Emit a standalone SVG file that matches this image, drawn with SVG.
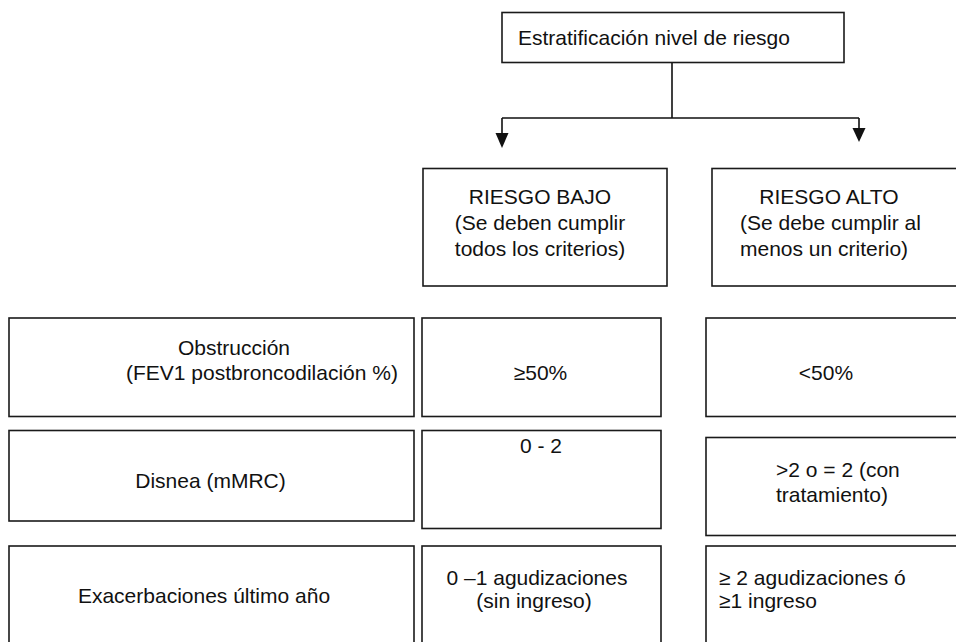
<svg xmlns="http://www.w3.org/2000/svg" width="956" height="642" viewBox="0 0 956 642">
<defs>
<style>
.b{fill:#fff;stroke:#1a1a1a;stroke-width:1.6}
.t{font-family:"Liberation Sans",Arial,sans-serif;font-size:21px;fill:#111}
.m{text-anchor:middle}
.c{fill:none;stroke:#111;stroke-width:1.6}
.h{fill:#111}
</style>
</defs>
<rect width="956" height="642" fill="#fff"/>
<g id="connectors">
<path class="c" d="M672 62 V118 M502 118 H859 M502 118 V134 M859 118 V129"/>
<polygon class="h" points="495.5,133 508.5,133 502,148"/>
<polygon class="h" points="852.5,128 865.5,128 859,142"/>
</g>
<g id="top">
<rect class="b" x="502" y="12.5" width="342" height="50"/>
<text class="t" x="518" y="45">Estratificación nivel de riesgo</text>
</g>
<g id="riesgo-bajo">
<rect class="b" x="423" y="168.5" width="244" height="117.5"/>
<text class="t m" x="540" y="204">RIESGO BAJO</text>
<text class="t m" x="540" y="230">(Se deben cumplir</text>
<text class="t m" x="540" y="256">todos los criterios)</text>
</g>
<g id="riesgo-alto">
<rect class="b" x="712" y="168.5" width="260" height="117.5"/>
<text class="t m" x="829" y="204">RIESGO ALTO</text>
<text class="t" x="740" y="230">(Se debe cumplir al</text>
<text class="t" x="740" y="256">menos un criterio)</text>
</g>
<g id="obstruccion">
<rect class="b" x="9" y="318" width="405" height="98.5"/>
<text class="t" x="178" y="355">Obstrucción</text>
<text class="t" x="126" y="380">(FEV1 postbroncodilación %)</text>
</g>
<g id="obstruccion-bajo">
<rect class="b" x="422" y="318" width="239" height="98.5"/>
<text class="t m" x="540.5" y="380">≥50%</text>
</g>
<g id="obstruccion-alto">
<rect class="b" x="706" y="318" width="266" height="98.5"/>
<text class="t m" x="826" y="380">&lt;50%</text>
</g>
<g id="disnea">
<rect class="b" x="9" y="430.5" width="405" height="90.5"/>
<text class="t m" x="210.5" y="488">Disnea (mMRC)</text>
</g>
<g id="disnea-bajo">
<rect class="b" x="422" y="430.5" width="239" height="98"/>
<text class="t m" x="541" y="453">0 - 2</text>
</g>
<g id="disnea-alto">
<rect class="b" x="706" y="437.5" width="266" height="98"/>
<text class="t" x="776" y="477">&gt;2 o = 2 (con</text>
<text class="t" x="776" y="502">tratamiento)</text>
</g>
<g id="exacerbaciones">
<rect class="b" x="9" y="546" width="405" height="110"/>
<text class="t m" x="204" y="603">Exacerbaciones último año</text>
</g>
<g id="exacerbaciones-bajo">
<rect class="b" x="422" y="546" width="239" height="110"/>
<text class="t m" x="537" y="585">0 –1 agudizaciones</text>
<text class="t m" x="534" y="608">(sin ingreso)</text>
</g>
<g id="exacerbaciones-alto">
<rect class="b" x="706" y="546" width="266" height="110"/>
<text class="t" x="719" y="585">≥ 2 agudizaciones ó</text>
<text class="t" x="719" y="608">≥1 ingreso</text>
</g>
</svg>
